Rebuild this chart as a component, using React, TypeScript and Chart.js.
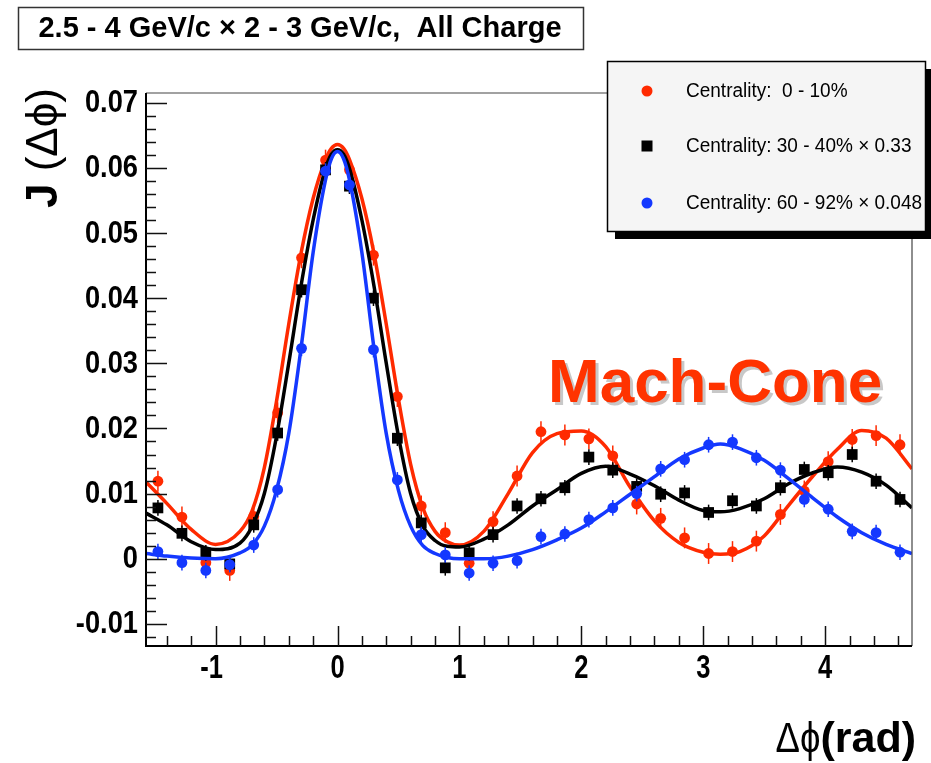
import React, { useEffect, useRef } from 'react';
import { Chart, registerables } from 'chart.js';

Chart.register(...registerables);

// ---- data ----
const binCenters = [
  -1.473, -1.276, -1.080, -0.884, -0.687, -0.491, -0.295, -0.098,
  0.098, 0.295, 0.491, 0.687, 0.884, 1.080, 1.276, 1.473,
  1.669, 1.865, 2.062, 2.258, 2.454, 2.651, 2.847, 3.044,
  3.240, 3.436, 3.633, 3.829, 4.025, 4.222, 4.418, 4.614,
];
const central0_10 = [
  0.0119, 0.0064, -0.0006, -0.0018, 0.0065, 0.0224, 0.0462, 0.0612,
  0.0597, 0.0466, 0.0249, 0.0081, 0.0040, -0.0007, 0.0057, 0.0127,
  0.0195, 0.0190, 0.0184, 0.0158, 0.0084, 0.0062, 0.0032, 0.0008,
  0.0011, 0.0027, 0.0068, 0.0104, 0.0149, 0.0183, 0.0189, 0.0175,
];
const central30_40 = [
  0.0078, 0.0039, 0.0009, -0.0008, 0.0052, 0.0193, 0.0413, 0.0597,
  0.0572, 0.0400, 0.0185, 0.0055, -0.0014, 0.0009, 0.0037, 0.0081,
  0.0092, 0.0109, 0.0156, 0.0136, 0.0111, 0.0099, 0.0101, 0.0071,
  0.0089, 0.0081, 0.0109, 0.0137, 0.0132, 0.0160, 0.0119, 0.0091,
];
const central60_92 = [
  0.0011, -0.0006, -0.0018, -0.0009, 0.0021, 0.0106, 0.0323, 0.0595,
  0.0574, 0.0321, 0.0121, 0.0037, 0.0006, -0.0022, -0.0007, -0.0003,
  0.0034, 0.0038, 0.0060, 0.0078, 0.0100, 0.0138, 0.0152, 0.0175,
  0.0179, 0.0155, 0.0136, 0.0091, 0.0076, 0.0042, 0.0040, 0.0010,
];
const err0_10 = 0.0016;
const err30_40 = 0.0012;
const err60_92 = 0.0012;

// fit curves
const curveX = [
  -1.571, -1.4, -1.2, -1.0, -0.8, -0.7, -0.6, -0.5, -0.4, -0.3, -0.2, -0.1, -0.05, 0,
  0.05, 0.1, 0.2, 0.3, 0.4, 0.5, 0.6, 0.7, 0.8, 0.9, 1.0, 1.2, 1.4, 1.6, 1.8, 2.0,
  2.2, 2.4, 2.6, 2.8, 3.0, 3.14, 3.3, 3.5, 3.7, 3.9, 4.1, 4.3, 4.5, 4.712,
];
const fit0_10 = [
  0.0118, 0.0085, 0.0045, 0.0022, 0.0042, 0.0074, 0.0140, 0.0242, 0.0360, 0.0468, 0.0553, 0.0612, 0.0630, 0.0636,
  0.0630, 0.0612, 0.0553, 0.0468, 0.0360, 0.0245, 0.0145, 0.0078, 0.0042, 0.0026, 0.0021, 0.0042, 0.0100, 0.0163, 0.0192, 0.0196,
  0.0172, 0.0110, 0.0058, 0.0025, 0.0010, 0.0007, 0.0011, 0.0035, 0.0082, 0.0127, 0.0168, 0.0197, 0.0185, 0.0138,
];
const fit30_40 = [
  0.0070, 0.0052, 0.0026, 0.0014, 0.0024, 0.0050, 0.0100, 0.0188, 0.0300, 0.0418, 0.0520, 0.0598, 0.0621, 0.0628,
  0.0621, 0.0598, 0.0520, 0.0418, 0.0300, 0.0188, 0.0100, 0.0050, 0.0028, 0.0019, 0.0018, 0.0030, 0.0052, 0.0081, 0.0106, 0.0131,
  0.0142, 0.0130, 0.0112, 0.0090, 0.0074, 0.0072, 0.0077, 0.0092, 0.0115, 0.0132, 0.0141, 0.0133, 0.0113, 0.0078,
];
const fit60_92 = [
  0.0008, 0.0004, 0.0001, 0.0000, 0.0009, 0.0021, 0.0050, 0.0105, 0.0192, 0.0322, 0.0470, 0.0580, 0.0614, 0.0625,
  0.0614, 0.0580, 0.0470, 0.0322, 0.0192, 0.0105, 0.0050, 0.0020, 0.0008, 0.0002, 0.0000, 0.0000, 0.0004, 0.0014, 0.0029, 0.0047,
  0.0072, 0.0099, 0.0126, 0.0153, 0.0170, 0.0176, 0.0169, 0.0151, 0.0123, 0.0093, 0.0064, 0.0040, 0.0022, 0.0008,
];

const seriesLabels = [
  'Centrality:  0 - 10%',
  'Centrality: 30 - 40% \u00d7 0.33',
  'Centrality: 60 - 92% \u00d7 0.048',
];
const yTickValues = [-0.01, 0, 0.01, 0.02, 0.03, 0.04, 0.05, 0.06, 0.07];
const yTickLabels = ['-0.01', '0', '0.01', '0.02', '0.03', '0.04', '0.05', '0.06', '0.07'];
const xTickValues = [-1, 0, 1, 2, 3, 4];
const xTickLabels = ['-1', '0', '1', '2', '3', '4'];
const titleText = '2.5 - 4 GeV/c \u00d7 2 - 3 GeV/c,  All Charge';
const annotationText = 'Mach-Cone';
const xTitleSymbol = '\u0394\u03d5';
const xTitleUnit = '(rad)';
const yTitleMain = 'J';
const yTitleRest = ' (\u0394\u03d5)';

const X_MIN = -Math.PI / 2;
const X_MAX = (3 * Math.PI) / 2;
const Y_MIN = -0.0134;
const Y_MAX = 0.0715;

const RED = '#ff2a00';
const BLACK = '#000000';
const BLUE = '#1438ff';
const FONT = '"Liberation Sans", Arial, Helvetica, sans-serif';

function drawText(
  ctx: CanvasRenderingContext2D, s: string, x: number, y: number,
  font: string, color: string, align: CanvasTextAlign, sx = 1,
) {
  ctx.save();
  ctx.font = font;
  ctx.fillStyle = color;
  ctx.textAlign = align;
  ctx.textBaseline = 'middle';
  ctx.translate(x, y);
  ctx.scale(sx, 1);
  ctx.fillText(s, 0, 0);
  ctx.restore();
}

const rootPlugin = {
  id: 'rootDecor',
  beforeDatasetDraw(chart: any, args: any) {
    const ds = chart.data.datasets[args.index];
    if (ds.errY === undefined) return;
    const meta = chart.getDatasetMeta(args.index);
    const ys = chart.scales.y;
    const ctx = chart.ctx;
    const area = chart.chartArea;
    ctx.save();
    ctx.beginPath();
    ctx.rect(area.left, area.top, area.right - area.left, area.bottom - area.top);
    ctx.clip();
    ctx.strokeStyle = ds.pointBackgroundColor;
    ctx.lineWidth = 1.5;
    meta.data.forEach((pt: any, i: number) => {
      const v = ds.data[i].y;
      const y1 = ys.getPixelForValue(v - ds.errY);
      const y2 = ys.getPixelForValue(v + ds.errY);
      ctx.beginPath();
      ctx.moveTo(pt.x, y1);
      ctx.lineTo(pt.x, y2);
      ctx.stroke();
    });
    ctx.restore();
  },
  afterDraw(chart: any) {
    const ctx: CanvasRenderingContext2D = chart.ctx;
    const a = chart.chartArea;
    const xs = chart.scales.x;
    const ys = chart.scales.y;

    // frame
    ctx.save();
    ctx.strokeStyle = '#444';
    ctx.lineWidth = 1.2;
    ctx.beginPath();
    ctx.moveTo(a.left, a.top);
    ctx.lineTo(a.right, a.top);
    ctx.lineTo(a.right, a.bottom);
    ctx.stroke();
    ctx.strokeStyle = '#000';
    ctx.lineWidth = 2;
    ctx.beginPath();
    ctx.moveTo(a.left, a.top);
    ctx.lineTo(a.left, a.bottom);
    ctx.lineTo(a.right, a.bottom);
    ctx.stroke();

    // y ticks
    ctx.lineWidth = 1.5;
    ctx.strokeStyle = '#111';
    for (let k = -6; k <= 35; k++) {
      const v = k * 0.002;
      if (v < Y_MIN || v > Y_MAX) continue;
      const y = Math.round(ys.getPixelForValue(v)) + 0.5;
      const major = k % 5 === 0;
      ctx.beginPath();
      ctx.moveTo(a.left, y);
      ctx.lineTo(a.left + (major ? 21 : 10), y);
      ctx.stroke();
    }
    // x ticks
    for (let k = -7; k <= 23; k++) {
      const v = k * 0.2;
      if (v < X_MIN || v > X_MAX) continue;
      const x = Math.round(xs.getPixelForValue(v)) + 0.5;
      const major = k % 5 === 0;
      ctx.beginPath();
      ctx.moveTo(x, a.bottom);
      ctx.lineTo(x, a.bottom - (major ? 20 : 10));
      ctx.stroke();
    }
    ctx.restore();

    // tick labels
    yTickValues.forEach((v, i) => {
      drawText(ctx, yTickLabels[i], a.left - 8, ys.getPixelForValue(v) + 1, `bold 31px ${FONT}`, '#000', 'right', 0.88);
    });
    xTickValues.forEach((v, i) => {
      drawText(ctx, xTickLabels[i], xs.getPixelForValue(v) - (v < 0 ? 4 : 0), a.bottom + 23, `bold 34px ${FONT}`, '#000', 'center', 0.75);
    });

    // x title
    ctx.save();
    ctx.font = `bold 43px ${FONT}`;
    const wRad = ctx.measureText(xTitleUnit).width;
    ctx.restore();
    drawText(ctx, xTitleUnit, 916, 740, `bold 43px ${FONT}`, '#000', 'right');
    drawText(ctx, xTitleSymbol, 916 - wRad, 740, `43px ${FONT}`, '#000', 'right', 0.85);

    // y title (rotated)
    ctx.save();
    ctx.translate(45, 88);
    ctx.rotate(-Math.PI / 2);
    ctx.textBaseline = 'middle';
    ctx.fillStyle = '#000';
    ctx.font = `44px ${FONT}`;
    const wRest = ctx.measureText(yTitleRest).width;
    ctx.font = `bold 44px ${FONT}`;
    const wJ = ctx.measureText(yTitleMain).width;
    ctx.textAlign = 'left';
    ctx.fillText(yTitleMain, -(wJ + wRest), 0);
    ctx.font = `44px ${FONT}`;
    ctx.fillText(yTitleRest, -wRest, 0);
    ctx.restore();

    // title box
    ctx.save();
    ctx.fillStyle = '#fff';
    ctx.fillRect(18, 7, 565, 42);
    ctx.strokeStyle = '#333';
    ctx.lineWidth = 1.5;
    ctx.strokeRect(18.5, 7.5, 565, 42);
    ctx.restore();
    drawText(ctx, titleText, 300, 29, `bold 29px ${FONT}`, '#000', 'center');

    // Mach-Cone annotation
    drawText(ctx, annotationText, 551, 388, `bold 62px ${FONT}`, '#c8c8c8', 'left');
    drawText(ctx, annotationText, 548, 385, `bold 62px ${FONT}`, '#ff3300', 'left');

    // legend box with shadow
    const lx = 607, ly = 61, lw = 318, lh = 170;
    ctx.save();
    ctx.fillStyle = '#000';
    ctx.fillRect(lx + 8, ly + 8, lw, lh);
    ctx.fillStyle = '#f5f5f5';
    ctx.fillRect(lx, ly, lw, lh);
    ctx.strokeStyle = '#000';
    ctx.lineWidth = 1.5;
    ctx.strokeRect(lx + 0.5, ly + 0.5, lw, lh);
    ctx.restore();
    const legendY = [91, 146, 203];
    const pointDs = chart.data.datasets.filter((d: any) => d.errY !== undefined);
    pointDs.forEach((d: any, i: number) => {
      const y = legendY[i];
      ctx.save();
      ctx.fillStyle = d.pointBackgroundColor;
      if (d.pointStyle === 'rect') {
        ctx.fillRect(647 - 5.5, y - 5.5, 11, 11);
      } else {
        ctx.beginPath();
        ctx.arc(647, y, 5.5, 0, Math.PI * 2);
        ctx.fill();
      }
      ctx.restore();
      drawText(ctx, d.label, 686, y, `20px ${FONT}`, '#000', 'left', 0.95);
    });
  },
};

export default function App() {
  const ref = useRef<HTMLCanvasElement | null>(null);
  useEffect(() => {
    document.body.style.margin = '0';
    if (!ref.current) return;
    const toXY = (ys: number[], xsArr: number[]) => ys.map((y, i) => ({ x: xsArr[i], y }));
    const pointSet = (label: string, vals: number[], color: string, style: string, radius: number, err: number, order: number) => ({
      type: 'line' as const,
      label,
      data: toXY(vals, binCenters),
      showLine: false,
      pointStyle: style,
      pointRadius: radius,
      pointBackgroundColor: color,
      pointBorderColor: color,
      pointBorderWidth: 0,
      borderColor: color,
      errY: err,
      order,
    });
    const curveSet = (label: string, vals: number[], color: string, order: number) => ({
      type: 'line' as const,
      label,
      data: toXY(vals, curveX),
      borderColor: color,
      borderWidth: 3.5,
      pointRadius: 0,
      cubicInterpolationMode: 'monotone' as const,
      fill: false,
      order,
    });
    const chart = new Chart(ref.current, {
      type: 'line',
      data: {
        datasets: [
          pointSet(seriesLabels[0], central0_10, RED, 'circle', 5.4, err0_10, 6) as any,
          curveSet('fit 0-10%', fit0_10, RED, 5) as any,
          pointSet(seriesLabels[1], central30_40, BLACK, 'rect', 7.6, err30_40, 4) as any,
          curveSet('fit 30-40%', fit30_40, BLACK, 3) as any,
          pointSet(seriesLabels[2], central60_92, BLUE, 'circle', 5.4, err60_92, 2) as any,
          curveSet('fit 60-92%', fit60_92, BLUE, 1) as any,
        ],
      },
      options: {
        responsive: false,
        animation: false,
        layout: { padding: { left: 146, right: 19, top: 93, bottom: 117 } },
        plugins: { legend: { display: false }, tooltip: { enabled: false } },
        scales: {
          x: { type: 'linear', min: X_MIN, max: X_MAX, display: false },
          y: { type: 'linear', min: Y_MIN, max: Y_MAX, display: false },
        },
      },
      plugins: [rootPlugin],
    });
    return () => chart.destroy();
  }, []);
  return (
    <div style={{ position: 'relative', width: 931, height: 763, background: '#fff' }}>
      <canvas ref={ref} width={931} height={763} style={{ display: 'block' }} />
    </div>
  );
}
